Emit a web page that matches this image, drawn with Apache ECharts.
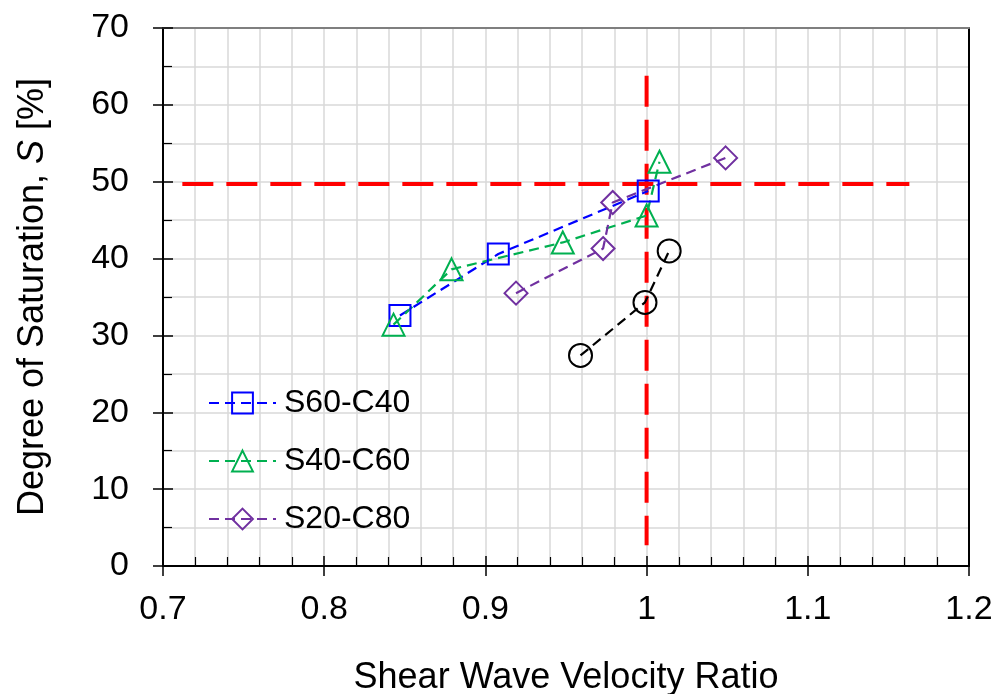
<!DOCTYPE html>
<html>
<head>
<meta charset="utf-8">
<script src="https://cdn.jsdelivr.net/npm/echarts@6/dist/echarts.min.js"></script>
<style>html,body{margin:0;padding:0;background:#fff}#c{width:998px;height:694px}</style>
</head>
<body>
<div id="c"></div>
<script>
const xTicks = [0.7, 0.8, 0.9, 1.0, 1.1, 1.2];
const yTicks = [0, 10, 20, 30, 40, 50, 60, 70];
const seriesNames = ['S60-C40', 'S40-C60', 'S20-C80'];
const s60c40 = [[0.847, 32.6], [0.908, 40.6], [1.001, 48.8]];
const s40c60 = [[0.843, 31.4], [0.879, 38.6], [0.948, 42.1], [1.0, 45.6], [1.008, 52.6]];
const s20c80 = [[0.919, 35.5], [0.973, 41.3], [0.979, 47.3], [1.049, 53.1]];
const blackSet = [[0.959, 27.4], [0.999, 34.3], [1.014, 41.0]];
const refH = [[0.712, 49.7], [1.163, 49.7]];
const refV = [[1.0, 63.8], [1.0, 2.7]];

const FONT = '"Liberation Sans", Arial, sans-serif';
const chart = echarts.init(document.getElementById('c'));
const diamond = 'path://M0,-1L1,0L0,1L-1,0Z';

function dataSeries(name, data, color, symbol, size) {
  return {
    name: name, type: 'line', data: data, z: 5,
    symbol: symbol, symbolSize: size,
    lineStyle: { color: color, width: 2.2, type: [10, 6] },
    itemStyle: { color: 'transparent', borderColor: color, borderWidth: 2 },
    emphasis: { disabled: true },
    animation: false
  };
}

const xBase = { type: 'value', min: xTicks[0], max: xTicks[xTicks.length - 1], interval: 0.1 };
const yBase = { type: 'value', min: yTicks[0], max: yTicks[yTicks.length - 1], interval: 10 };

chart.setOption({
  animation: false,
  textStyle: { fontFamily: FONT },
  grid: { left: 163, right: 29, top: 28, bottom: 128, containLabel: false, outerBoundsMode: 'none' },
  legend: {
    data: seriesNames,
    orient: 'vertical',
    left: 203, top: 382,
    itemWidth: 67, itemHeight: 26, itemGap: 26,
    textStyle: { fontSize: 32, color: '#000', fontFamily: FONT, padding: [0, 0, 0, 3] },
    selectedMode: false
  },
  xAxis: [
    Object.assign({}, xBase, {
      position: 'bottom',
      name: 'Shear Wave Velocity Ratio', nameLocation: 'middle', nameGap: 94,
      nameTextStyle: { fontSize: 36, color: '#000', fontFamily: FONT },
      axisLine: { show: true, lineStyle: { color: '#000', width: 2 } },
      axisTick: { show: true, inside: false, length: 10, lineStyle: { color: '#000', width: 1.5 } },
      axisLabel: { fontSize: 34, color: '#000', margin: 27, fontFamily: FONT,
        formatter: v => (Math.abs(v - 1) < 1e-9 ? '1' : String(+v.toFixed(1))) },
      splitLine: { show: true, lineStyle: { color: '#d9d9d9', width: 1.5 } },
      minorTick: { show: false, splitNumber: 5 },
      minorSplitLine: { show: true, lineStyle: { color: '#d9d9d9', width: 1.5 } }
    }),
    Object.assign({}, xBase, {
      position: 'bottom',
      axisLine: { show: false },
      axisTick: { show: true, inside: true, length: 10, lineStyle: { color: '#000', width: 1.5 } },
      axisLabel: { show: false },
      splitLine: { show: false },
      minorTick: { show: true, splitNumber: 5, length: 9, lineStyle: { color: '#000', width: 1.2 } },
      minorSplitLine: { show: false }
    }),
    Object.assign({}, xBase, {
      position: 'top',
      axisLine: { show: true, onZero: false, lineStyle: { color: '#7f7f7f', width: 2 } },
      axisTick: { show: false }, axisLabel: { show: false }, splitLine: { show: false }
    })
  ],
  yAxis: [
    Object.assign({}, yBase, {
      position: 'left',
      name: 'Degree of Saturation, {i|S} [%]', nameLocation: 'middle', nameGap: 112, nameRotate: 90,
      nameTextStyle: { fontSize: 36, color: '#000', fontFamily: FONT,
        rich: { i: { fontSize: 36, fontStyle: 'italic', color: '#000', fontFamily: FONT } } },
      axisLine: { show: true, onZero: false, lineStyle: { color: '#000', width: 2 } },
      axisTick: { show: true, inside: false, length: 10, lineStyle: { color: '#000', width: 1.5 } },
      axisLabel: { fontSize: 34, color: '#000', margin: 34, fontFamily: FONT },
      splitLine: { show: true, lineStyle: { color: '#d9d9d9', width: 1.5 } },
      minorTick: { show: false, splitNumber: 2 },
      minorSplitLine: { show: true, lineStyle: { color: '#d9d9d9', width: 1.5 } }
    }),
    Object.assign({}, yBase, {
      position: 'left',
      axisLine: { show: false },
      axisTick: { show: true, inside: true, length: 10, lineStyle: { color: '#000', width: 1.5 } },
      axisLabel: { show: false },
      splitLine: { show: false },
      minorTick: { show: true, splitNumber: 2, length: 9, lineStyle: { color: '#000', width: 1.2 } },
      minorSplitLine: { show: false }
    }),
    Object.assign({}, yBase, {
      position: 'right',
      axisLine: { show: true, onZero: false, lineStyle: { color: '#000', width: 2 } },
      axisTick: { show: false }, axisLabel: { show: false }, splitLine: { show: false }
    })
  ],
  series: [
    {
      name: 'refH', type: 'line', data: refH, z: 3, symbol: 'none',
      lineStyle: { color: '#ff0000', width: 4, type: [31, 13] }, silent: true
    },
    {
      name: 'refV', type: 'line', data: refV, z: 3, symbol: 'none',
      lineStyle: { color: '#ff0000', width: 4, type: [31, 13] }, silent: true
    },
    dataSeries(seriesNames[0], s60c40, '#0000ff', 'rect', 21),
    dataSeries(seriesNames[1], s40c60, '#00b050', 'triangle', 22),
    dataSeries(seriesNames[2], s20c80, '#7030a0', diamond, 23),
    dataSeries('Other', blackSet, '#000000', 'circle', 23)
  ]
});
</script>
</body>
</html>
